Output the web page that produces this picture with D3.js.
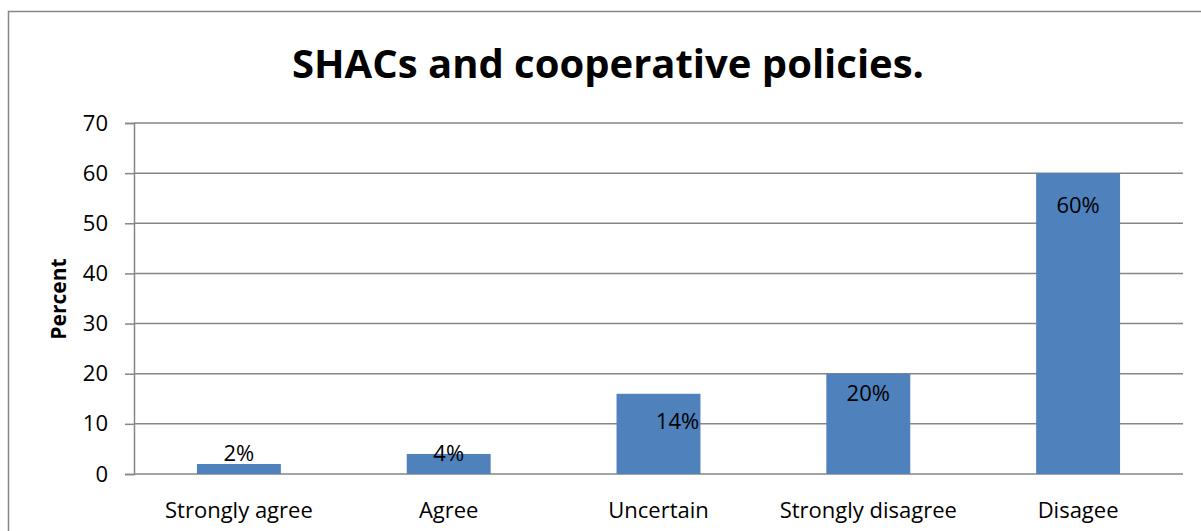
<!DOCTYPE html>
<html>
<head>
<meta charset="utf-8">
<script src="https://cdn.jsdelivr.net/npm/d3@7"></script>
<style>
  body { margin: 0; background: #fff; }
  svg { display: block; }
</style>
</head>
<body>
<svg id="chart"></svg>
<script>
// data
const categories = ["Strongly agree", "Agree", "Uncertain", "Strongly disagree", "Disagee"];
const values = [2, 4, 16, 20, 60];
const labels = ["2%", "4%", "14%", "20%", "60%"];
const yTicks = [0, 10, 20, 30, 40, 50, 60, 70];

const width = 1201, height = 531;
const margin = {top: 123, right: 18, bottom: 57, left: 134};
const font = "'Open Sans', 'Noto Sans', sans-serif";

// label offsets (px) for where the data labels sit relative to the bar top
const labelDy = [-11, -1, 28, 20, 32];
const labelDx = [0, 0, 19, 0, 0];

const svg = d3.select("#chart")
    .attr("width", width)
    .attr("height", height)
    .attr("font-family", font);

// chart frame (only top/left visible in the original)
svg.append("rect")
    .attr("x", 8.5).attr("y", 11.5)
    .attr("width", width + 20).attr("height", height + 20)
    .attr("fill", "none")
    .attr("stroke", "#868686")
    .attr("stroke-width", 1.5);

const x = d3.scaleBand()
    .domain(categories)
    .range([margin.left, width - margin.right]);

const y = d3.scaleLinear()
    .domain([0, 70])
    .range([height - margin.bottom, margin.top]);

// gridlines + ticks
const yAxis = svg.append("g")
    .attr("transform", `translate(${margin.left},0)`)
    .call(d3.axisLeft(y).tickValues(yTicks).tickSize(9).tickPadding(17))
    .call(g => g.select(".domain").attr("stroke", "#868686").attr("stroke-width", 1.5));
yAxis.selectAll(".tick line").attr("stroke", "#868686").attr("stroke-width", 1.5);
yAxis.selectAll(".tick text")
    .attr("font-family", font)
    .attr("font-size", 22)
    .attr("fill", "#000");

svg.append("g")
    .selectAll("line")
    .data(yTicks)
    .join("line")
      .attr("x1", margin.left)
      .attr("x2", width - margin.right)
      .attr("y1", d => y(d))
      .attr("y2", d => y(d))
      .attr("stroke", "#868686")
      .attr("stroke-width", 1.5);

// bars
const barW = x.bandwidth() * 0.4;
svg.append("g")
    .selectAll("rect")
    .data(values)
    .join("rect")
      .attr("x", (d, i) => x(categories[i]) + (x.bandwidth() - barW) / 2)
      .attr("y", d => y(d))
      .attr("width", barW)
      .attr("height", d => y(0) - y(d))
      .attr("fill", "#4f81bd");

// data labels
svg.append("g")
    .selectAll("text")
    .data(values)
    .join("text")
      .attr("x", (d, i) => x(categories[i]) + x.bandwidth() / 2 + labelDx[i])
      .attr("y", (d, i) => y(d) + labelDy[i])
      .attr("dy", "0.35em")
      .attr("text-anchor", "middle")
      .attr("font-size", 22)
      .attr("fill", "#000")
      .text((d, i) => labels[i]);

// category labels
svg.append("g")
    .selectAll("text")
    .data(categories)
    .join("text")
      .attr("x", d => x(d) + x.bandwidth() / 2)
      .attr("y", 510)
      .attr("dy", "0.35em")
      .attr("text-anchor", "middle")
      .attr("font-size", 22)
      .attr("fill", "#000")
      .text(d => d);

// y axis title
svg.append("text")
    .attr("transform", "translate(59,299) rotate(-90)")
    .attr("text-anchor", "middle")
    .attr("dy", "0.35em")
    .attr("font-size", 21)
    .attr("font-weight", "bold")
    .text("Percent");

// title
svg.append("text")
    .attr("x", 608)
    .attr("y", 78)
    .attr("text-anchor", "middle")
    .attr("font-size", 40)
    .attr("font-weight", "bold")
    .text("SHACs and cooperative policies.");
</script>
</body>
</html>
